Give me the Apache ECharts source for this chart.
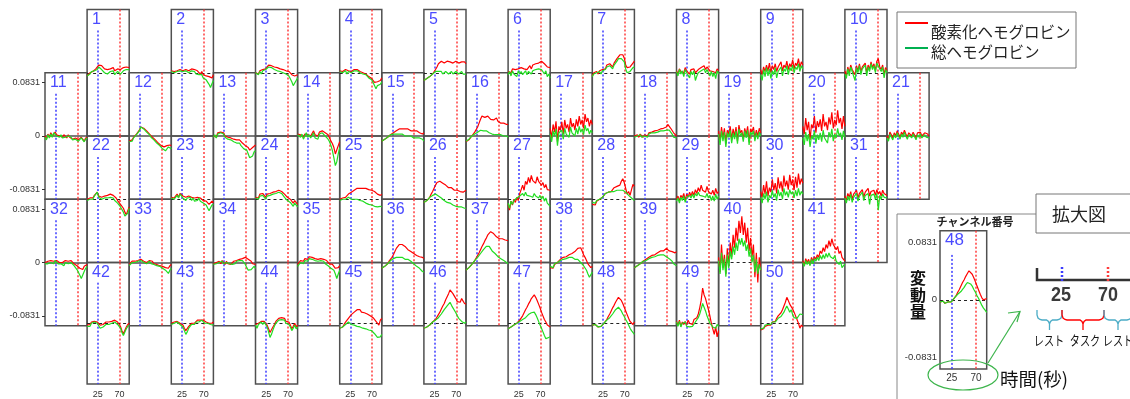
<!DOCTYPE html>
<html><head><meta charset="utf-8">
<script src="https://cdn.jsdelivr.net/npm/echarts@6/dist/echarts.min.js"></script>
<style>html,body{margin:0;padding:0;background:#fff}#c{width:1130px;height:399px}</style>
</head><body><div id="c"></div>
<script>
// time samples (s)
const times = [3,6,9,12,15,18,21,24,27,30,33,36,39,42,45,48,51,54,57,60,63,66,69,72,75,78,81,84,87,90];
const xTickValues = [25, 70];
const yTickValues = [-0.0831, 0, 0.0831];
const taskStart = 25, taskEnd = 70;
const UNIT = 0.001; // values below are in units of 0.001
// channel rows (first channel, count, column offset)
const rowFirst = [1, 11, 22, 32, 42];
const rowCount = [10, 11, 10, 10, 9];
const rowColOffset = [1, 0, 1, 0, 1];
const insetChannel = 48;
const legendNames = ['酸素化ヘモグロビン', '総ヘモグロビン'];

// oxy-Hb, channel 1..50
const oxyHb = [
[-5,-3,0,3,2,5,6,8,12,14,11,9,6,8,5,3,6,5,8,3,5,6,9,5,3,8,6,9,11,8],
[3,5,2,5,3,6,5,8,3,6,5,8,3,5,6,3,5,2,3,0,-2,2,-3,-2,-5,-3,-6,-5,-8,-3],
[0,2,-2,3,0,5,3,6,9,12,15,11,14,9,12,8,11,6,9,5,8,3,6,2,0,-3,-6,-5,-2,-3],
[3,5,2,3,5,2,3,5,2,3,5,3,5,3,2,3,0,2,-2,-3,-6,-5,-9,-12,-15,-18,-14,-17,-12,-8],
[-12,-11,-9,-8,-6,-3,-2,0,5,9,14,15,18,17,15,17,18,15,17,18,15,17,18,17,15,18,17,15,17,14],
[2,5,0,6,3,5,2,6,3,8,5,6,9,5,8,11,6,12,9,14,11,15,12,18,20,14,17,9,12,8],
[-5,0,-3,2,-2,3,0,5,8,6,12,9,14,11,9,15,18,22,25,28,26,28,23,12,8,5,9,12,15,18],
[3,-2,6,2,5,0,8,3,6,-2,5,2,6,0,3,5,2,8,6,11,5,9,8,3,6,2,5,0,6,3],
[5,-3,9,2,12,3,15,0,11,5,14,2,9,6,17,3,12,8,18,5,14,9,20,6,15,11,22,8,17,12],
[3,-5,9,0,12,5,8,-3,11,3,14,2,9,6,15,0,12,5,17,8,14,3,18,22,9,5,12,-3,8,3],
[0,-5,3,-2,5,0,3,6,2,5,0,3,-2,2,0,-3,2,-2,0,-5,-2,-3,0,-6,-3,-2,-5,-8,-3,-2],
[-8,-5,-6,-2,0,3,6,9,14,17,12,9,8,5,3,0,-2,-5,-6,-9,-11,-14,-15,-18,-17,-18,-15,-12,-14,-15],
[0,3,-2,5,2,6,3,5,0,2,-2,0,-3,-2,-5,-3,-6,-8,-6,-9,-11,-12,-15,-14,-18,-22,-23,-18,-15,-14],
[3,6,2,5,-2,3,6,2,5,0,3,8,2,5,0,6,3,8,9,5,6,2,-3,-8,-12,-18,-28,-25,-15,-9],
[-8,-6,-5,-3,-2,0,2,3,5,6,8,9,11,9,11,12,11,9,11,9,8,9,8,6,8,6,5,6,3,5],
[-9,-8,-6,-3,0,3,6,9,14,20,26,31,32,29,28,31,29,26,28,25,26,28,23,22,20,18,20,17,18,18],
[12,-3,18,6,23,-9,15,9,22,3,25,12,18,6,28,14,20,9,26,15,31,18,25,12,34,22,28,15,25,18],
[0,-3,2,-2,3,0,-2,2,3,0,5,2,6,3,8,5,9,8,11,9,12,15,14,18,17,12,9,5,2,0],
[8,-9,14,-3,12,-12,9,3,15,-6,11,0,14,-8,17,5,9,-5,12,2,15,-9,11,6,14,-3,9,0,12,5],
[15,3,28,9,22,-6,18,12,31,5,23,14,26,8,34,15,22,9,29,18,37,12,25,17,40,20,28,11,31,15],
[0,-5,6,2,-3,5,0,8,3,-2,6,2,9,3,-2,5,8,0,6,3,-3,5,2,6,0,-2,5,2,3,0],
[0,-3,2,5,2,6,3,11,5,8,3,6,5,8,6,9,8,5,6,3,2,-2,-5,-8,-11,-14,-20,-24,-18,-12],
[3,6,2,5,8,3,9,6,5,8,3,6,5,8,3,6,2,5,3,6,2,3,-2,0,-3,-5,-8,-6,-3,-5],
[3,6,2,8,5,9,6,3,8,5,9,6,11,8,12,9,14,15,12,11,8,6,3,5,0,-3,-6,-2,-5,-8],
[0,-2,2,0,3,5,8,9,11,12,14,15,17,18,17,18,17,15,17,14,15,12,14,11,12,9,8,9,6,8],
[-5,-3,-2,0,3,8,12,17,22,26,29,28,26,25,23,22,20,18,17,18,15,14,12,14,11,12,14,11,12,14],
[-8,-17,-3,-9,0,-5,3,-2,9,15,22,14,28,23,34,26,37,29,32,25,35,28,31,22,26,18,23,15,18,14],
[-8,-5,-9,-3,-6,0,-2,3,6,9,12,11,14,12,15,18,17,20,23,22,28,32,26,25,8,12,6,15,23,20],
[0,5,-3,6,2,9,-2,8,3,11,5,12,6,15,9,18,12,22,14,17,11,20,12,15,8,14,6,17,9,12],
[12,3,22,8,28,5,18,11,31,14,25,9,34,17,28,12,37,20,29,15,38,22,31,14,35,18,40,23,32,25],
[5,-2,9,3,12,0,8,5,14,2,9,6,15,3,11,8,17,5,12,9,14,6,15,8,12,5,14,9,11,6],
[0,-2,2,0,3,5,2,0,3,2,0,2,0,-2,3,5,2,0,3,2,-2,-3,-5,-8,-9,-12,-11,-6,-5,-3],
[-3,0,2,3,2,5,3,2,5,3,2,3,0,2,3,0,2,-2,0,-3,-2,-5,-3,-6,-5,-8,-6,-9,-5,-3],
[-2,-5,0,-3,2,-2,3,0,-3,2,-2,0,-3,-2,2,0,3,2,5,3,6,5,8,6,5,3,2,-2,0,-3],
[-3,0,3,5,2,6,8,5,9,6,8,5,6,3,5,8,6,3,5,2,3,0,-2,-5,-3,-6,-9,-12,-8,-5],
[-9,-8,-6,-5,-2,2,5,8,12,17,22,25,28,29,28,26,25,23,20,18,17,15,14,12,11,9,9,8,8,6],
[-12,-11,-8,-6,-3,0,3,6,11,15,20,25,29,34,38,43,46,48,46,45,42,40,38,37,35,37,34,35,32,34],
[-8,-5,-9,-3,-6,0,-2,5,3,8,6,9,8,12,11,14,12,17,18,22,20,23,18,12,8,3,-2,-5,-8,-6],
[-8,-6,-5,-3,-2,0,2,3,5,6,8,9,11,12,12,14,15,17,18,20,18,20,22,20,18,20,17,18,15,17],
[8,-15,28,-8,12,-18,22,-5,31,9,43,23,54,34,65,46,72,43,62,31,54,18,38,8,28,-23,15,-31,8,-12],
[3,-5,6,0,5,-3,8,2,9,5,12,8,18,14,23,17,28,22,34,25,37,28,31,20,25,14,18,8,6,2],
[-3,0,-2,2,0,3,5,2,0,-3,-5,-2,0,2,3,2,0,3,2,5,3,2,0,-5,-12,-17,-15,-6,-2,0],
[0,-2,2,0,3,2,0,2,-3,-8,-12,-9,-5,-2,0,2,0,3,5,3,5,6,5,3,2,3,0,2,0,2],
[-2,-5,0,2,3,0,3,2,-3,-9,-15,-12,-6,-2,3,6,8,5,9,6,8,3,6,2,-3,-9,-5,0,-6,-3],
[-8,-5,-6,-2,2,5,8,11,14,17,18,20,22,20,22,18,20,17,18,15,14,12,11,9,6,3,0,-3,5,8],
[-8,-9,-6,-5,-3,0,2,3,6,9,14,18,23,28,32,38,43,48,54,51,48,45,40,35,32,34,40,37,32,31],
[-9,-8,-6,-5,-3,-2,0,2,5,8,12,17,22,26,31,35,40,43,46,42,37,31,25,18,12,6,2,-3,-5,-6],
[-3,-5,-2,-5,-6,-3,-5,-3,0,3,6,11,15,20,25,29,34,38,42,40,37,32,26,20,14,8,3,0,-2,2],
[3,-3,5,-5,2,-2,3,-3,5,0,3,-2,6,3,9,15,25,37,57,46,40,31,22,12,0,-9,-18,-6,-22,-12],
[-11,-8,-9,-5,-6,-3,-2,-3,2,5,3,8,12,11,17,22,28,34,42,37,31,34,23,18,12,6,0,-8,-3,-6]
];

// total-Hb, channel 1..50
const totalHb = [
[-5,-3,-2,2,0,3,5,5,9,8,5,2,0,3,-2,-3,2,0,3,-3,0,2,5,-2,-3,3,2,5,6,5],
[2,3,0,3,2,5,3,6,2,3,3,5,0,2,3,0,2,-2,0,-3,-5,-3,-8,-6,-11,-14,-18,-23,-17,-12],
[0,-2,-3,2,-2,3,0,5,6,9,11,8,9,5,8,3,6,2,5,0,3,-2,0,-5,-8,-14,-20,-22,-12,-8],
[2,3,0,2,3,-2,2,3,0,2,3,2,3,2,0,2,-2,0,-3,-5,-8,-6,-11,-15,-18,-25,-20,-23,-18,-14],
[-12,-11,-9,-8,-6,-3,-2,0,2,0,2,0,2,-2,0,2,0,-2,0,2,-2,0,2,0,-2,0,2,-2,0,-2],
[-3,2,-5,3,-2,0,-6,3,-2,2,-3,0,3,-3,2,5,-2,3,0,5,2,6,3,5,6,-2,3,-6,-2,-8],
[-6,-2,-5,0,-3,2,-2,3,6,5,9,6,11,8,6,12,15,18,22,23,22,23,17,6,0,-3,2,5,8,9],
[2,-5,5,-2,3,-6,5,0,3,-8,2,-3,3,-12,-5,0,-3,3,2,6,0,5,3,-5,2,-6,0,-9,3,-2],
[-3,-12,5,-6,8,-5,6,-9,3,-3,8,-8,2,0,9,-5,6,2,11,-3,8,3,12,0,9,5,14,2,11,6],
[-2,-9,6,-5,9,2,5,-12,8,0,11,-3,6,3,12,-5,9,2,14,5,11,0,15,18,6,2,9,-8,5,0],
[-2,-6,2,-3,3,-2,5,3,0,3,-2,2,-3,0,-2,-5,0,-3,-2,-6,-3,-5,-2,-8,-5,-3,-6,-9,-5,-3],
[-9,-6,-8,-3,-2,2,5,8,14,15,11,8,6,3,2,-2,-3,-6,-8,-11,-12,-15,-17,-20,-22,-23,-20,-17,-18,-20],
[-2,2,-3,3,0,5,2,3,-2,-3,-5,-3,-6,-5,-9,-8,-11,-12,-11,-15,-17,-20,-23,-22,-28,-34,-37,-31,-25,-23],
[2,5,-2,3,-5,0,5,-2,2,-3,0,5,-3,0,-5,3,0,5,6,0,2,-5,-9,-15,-23,-34,-46,-40,-28,-18],
[-8,-6,-5,-3,-2,0,2,2,3,5,3,5,3,2,3,2,0,2,0,-2,0,-2,-3,-2,-3,-5,-3,-6,-5,-8],
[-8,-6,-5,-3,0,2,3,5,6,8,9,9,8,6,8,6,5,5,3,3,2,3,2,0,2,0,0,-2,0,-2],
[3,-9,8,0,11,-15,5,2,9,-5,12,3,6,-2,14,5,8,0,12,3,15,6,11,2,17,8,12,3,9,5],
[-2,-5,0,-3,2,-2,-3,0,2,-2,3,0,5,2,5,3,6,5,8,6,8,11,9,11,9,6,3,-2,-5,-3],
[3,-14,8,-8,6,-17,5,-2,9,-11,5,-5,8,-12,11,0,5,-9,8,-3,9,-14,6,2,8,-8,5,-5,6,0],
[-3,-14,6,-8,3,-17,0,-5,8,-12,2,-6,5,-9,9,-3,0,-11,6,-2,11,-8,3,-3,12,0,5,-6,8,-2],
[-3,-8,3,-2,-6,2,-3,5,0,-5,3,-2,6,0,-5,2,5,-3,3,0,-6,2,-2,3,-3,-5,2,-2,0,-3],
[-2,-5,0,3,0,5,2,11,3,5,0,3,2,3,2,5,3,0,2,-2,-3,-6,-9,-12,-15,-20,-26,-29,-22,-14],
[2,5,0,3,6,2,8,5,2,3,-2,2,0,3,-2,2,-3,0,-2,2,-3,-2,-6,-5,-9,-12,-18,-15,-9,-8],
[2,5,0,5,2,6,3,0,5,2,6,3,8,5,9,6,11,12,9,6,3,2,-2,0,-5,-8,-11,-6,-9,-12],
[-2,-3,0,-2,0,2,3,2,0,2,0,-2,0,-3,-2,-5,-3,-5,-6,-5,-8,-6,-9,-8,-11,-9,-12,-14,-11,-12],
[-5,-3,-2,0,3,5,6,8,8,6,5,3,2,0,-2,-3,-5,-5,-6,-8,-9,-9,-11,-12,-12,-14,-12,-14,-14,-14],
[-6,-14,-3,-8,-2,-5,2,0,5,8,9,5,11,6,9,5,8,3,9,5,8,2,6,0,5,-3,2,-6,-8,-11],
[-5,-3,-6,-2,-5,0,-2,3,6,9,12,11,14,12,14,12,15,14,12,14,15,14,12,11,8,6,3,2,0,-2],
[-3,2,-6,3,-2,5,-5,3,0,6,2,8,2,9,5,11,6,9,5,8,3,9,2,6,-2,5,-3,8,0,5],
[3,-6,9,0,12,-5,6,2,14,3,9,-2,15,5,11,0,17,6,12,3,15,8,12,2,14,5,17,6,12,8],
[2,-6,5,-2,8,-5,3,0,9,-3,5,2,11,-2,6,3,9,-8,6,5,8,0,9,-17,6,0,8,3,5,2],
[-2,-5,-2,-3,0,2,-2,3,0,-2,-3,-2,-3,-5,0,2,-2,-3,0,-2,-5,-8,-11,-15,-20,-25,-22,-14,-9,-6],
[-5,-2,0,2,0,3,2,0,3,2,0,2,-2,0,2,-2,0,-3,-2,-5,-3,-6,-6,-9,-8,-12,-14,-17,-12,-9],
[-3,-6,-2,-5,0,-3,2,-2,-5,0,-3,-2,-5,-3,0,-2,2,0,3,2,3,0,-3,-8,-12,-15,-11,-8,-6,-9],
[-6,-3,0,2,-2,3,5,2,6,3,5,2,3,0,2,5,3,0,2,-2,-2,-5,-6,-9,-8,-12,-18,-25,-18,-12],
[-9,-8,-6,-5,-2,0,3,5,6,8,8,6,8,6,8,6,5,6,5,3,2,0,-2,-3,-6,-8,-9,-12,-14,-15],
[-12,-11,-8,-6,-3,0,3,5,8,11,14,17,20,23,25,26,25,22,18,15,14,12,9,8,6,5,3,2,0,-2],
[-6,-3,-8,-2,-5,0,-2,3,2,5,3,6,5,8,6,8,6,5,3,5,2,0,-2,-5,-8,-12,-18,-23,-20,-15],
[-8,-6,-5,-3,-2,0,2,3,3,5,6,8,8,9,9,11,11,12,12,11,12,11,9,8,6,5,2,-2,-3,-5],
[3,-18,15,-12,6,-22,12,-9,18,5,25,12,31,18,37,28,38,25,34,18,28,9,22,0,12,-15,5,-18,-3,-12],
[0,-6,3,-3,2,-5,5,-2,6,2,8,3,11,5,12,6,14,8,15,9,12,6,11,2,5,-3,2,-8,-5,-2],
[-5,-3,-5,0,-2,2,3,0,-3,-8,-11,-6,-3,-2,0,-2,-3,0,-2,2,0,-2,-3,-8,-15,-20,-18,-9,-5,-3],
[-2,-3,0,-2,2,0,-2,0,-6,-12,-18,-14,-8,-5,-2,0,-2,2,3,2,3,5,3,0,-2,0,-3,-2,-5,-3],
[-3,-8,-2,0,2,-2,2,0,-6,-14,-23,-18,-11,-5,0,3,5,2,6,3,5,0,3,-2,-6,-12,-8,-3,-9,-6],
[-8,-5,-6,-3,-2,0,2,0,-2,0,-3,-2,-5,-3,-6,-5,-8,-6,-9,-8,-11,-9,-12,-14,-17,-20,-23,-26,-22,-18],
[-8,-9,-6,-5,-3,0,2,3,5,8,9,12,15,18,22,25,28,31,34,29,25,22,17,12,8,5,3,2,0,2],
[-9,-8,-6,-5,-3,-2,0,2,3,5,6,8,9,12,14,15,17,18,18,14,9,3,-3,-8,-14,-20,-25,-26,-23,-22],
[-3,-5,-2,-5,-6,-3,-5,-3,0,3,5,8,9,12,15,18,22,25,26,23,20,15,11,6,2,-3,-8,-12,-15,-18],
[2,-5,3,-6,0,-3,2,-5,-8,-6,-9,-5,-2,2,5,9,15,23,32,26,20,12,6,0,-3,-6,-3,-8,-2,-5],
[-9,-6,-8,-3,-5,-2,0,-2,2,3,2,5,8,6,11,14,18,23,28,23,18,22,14,9,12,8,11,15,12,14]
];

const RED = '#ff0000', GREEN = '#22dd22', BLUE_MK = '#3c3cff', RED_MK = '#ff3c3c';
const NUM_FONT = '"Liberation Sans", Arial, sans-serif';
const JP = '"Noto Sans CJK JP", sans-serif';
const grids = [], xAxes = [], yAxes = [], series = [], graphics = [];

function addPanel(ch, left, top, w, h, ymax, o) {
  const gi = grids.length;
  grids.push({left: left, top: top, width: w, height: h, show: true,
    borderColor: '#505050', borderWidth: 1.5, backgroundColor: 'rgba(0,0,0,0)'});
  xAxes.push({type: 'value', gridIndex: gi, min: 3, max: 90,
    axisLine: {show: false, onZero: false}, splitLine: {show: false}, axisTick: {show: false},
    axisLabel: o.xLabels ? {show: true, customValues: xTickValues, margin: o.xMargin,
      fontSize: o.xFont, color: '#333', fontFamily: NUM_FONT} : {show: false}});
  yAxes.push({type: 'value', gridIndex: gi, min: -ymax, max: ymax,
    axisLine: {show: false, onZero: false}, splitLine: {show: false},
    axisTick: o.yTicks ? {show: true, customValues: yTickValues, length: 3, lineStyle: {color: '#333', width: 1}} : {show: false},
    axisLabel: o.yLabels ? {show: true, customValues: yTickValues, margin: o.yMargin,
      fontSize: o.yFont, color: '#333', fontFamily: NUM_FONT,
      formatter: function (v) { return Math.abs(v) < 1e-9 ? '0' : v.toFixed(4); }} : {show: false}});
  const zeroStyle = o.zeroSolid ? {color: '#505050', type: 'solid', width: 1.5}
                                : {color: '#222', type: [3, 3], width: 1};
  const blue = {color: BLUE_MK, type: [2, 2], width: 1.5};
  const red = {color: RED_MK, type: [2, 2], width: 1.5};
  series.push({type: 'line', xAxisIndex: gi, yAxisIndex: gi, z: 2, symbol: 'none', showSymbol: false,
    silent: true, animation: false,
    lineStyle: {color: RED, width: 1.2}, itemStyle: {color: RED},
    data: times.map(function (t, i) { return [t, oxyHb[ch - 1][i] * UNIT]; }),
    markLine: {silent: true, symbol: 'none', animation: false, z: 1, label: {show: false},
      emphasis: {disabled: true},
      data: [
        [{coord: [taskStart, o.blueTop], lineStyle: blue}, {coord: [taskStart, -ymax], lineStyle: blue}],
        [{coord: [taskEnd, ymax], lineStyle: red}, {coord: [taskEnd, -ymax], lineStyle: red}],
        {yAxis: 0, lineStyle: zeroStyle}
      ]}});
  series.push({type: 'line', xAxisIndex: gi, yAxisIndex: gi, z: 3, symbol: 'none', showSymbol: false,
    silent: true, animation: false,
    lineStyle: {color: GREEN, width: 1.2}, itemStyle: {color: GREEN},
    data: times.map(function (t, i) { return [t, totalHb[ch - 1][i] * UNIT]; })});
  graphics.push({type: 'text', x: left + 5, y: top + o.numDy, z: 20,
    style: {text: String(ch), font: o.numFont + 'px ' + NUM_FONT, fill: '#4b4bff',
      textAlign: 'left', textVerticalAlign: 'top', align: 'left', verticalAlign: 'top'}});
}

const L0 = 45, CW = 42.1, T0 = 9.5, RH = 63.25, PH = 126.5, YM = 0.0985;
for (let r = 0; r < rowFirst.length; r++) {
  for (let j = 0; j < rowCount[r]; j++) {
    const ch = rowFirst[r] + j;
    const col = rowColOffset[r] + 2 * j;
    const left = L0 + CW * col, top = T0 + RH * r;
    addPanel(ch, left, top, CW, PH, YM, {
      xLabels: r === 4, xMargin: 6, xFont: 9,
      yLabels: col === 0, yTicks: col === 0, yMargin: 5, yFont: 9,
      zeroSolid: (r === 1 || r === 3) && ch !== 40,
      blueTop: YM - 21 / PH * 2 * YM, numDy: 2, numFont: 16
    });
  }
}
// inset (enlarged channel)
addPanel(insetChannel, 940, 230.7, 46.7, 138.3, 0.1, {
  xLabels: true, xMargin: 4, xFont: 10, yLabels: true, yTicks: false, yMargin: 3, yFont: 9.5,
  zeroSolid: false, blueTop: 0.065, numDy: 1, numFont: 17
});

function txt(x, y, s, font, fill, align, extra) {
  const e = {type: 'text', x: x, y: y, z: 30,
    style: {text: s, font: font, fill: fill || '#222', textAlign: align || 'left', align: align || 'left',
      textVerticalAlign: 'middle', verticalAlign: 'middle'}};
  if (extra) Object.assign(e, extra);
  return e;
}

// legend
graphics.push({type: 'rect', z: 25, shape: {x: 897, y: 12, width: 179, height: 56},
  style: {fill: '#fff', stroke: '#777', lineWidth: 1}});
graphics.push({type: 'line', z: 30, shape: {x1: 905, y1: 23, x2: 928, y2: 23}, style: {stroke: '#ff0000', lineWidth: 2}});
graphics.push({type: 'line', z: 30, shape: {x1: 905, y1: 48, x2: 928, y2: 48}, style: {stroke: '#00b050', lineWidth: 2}});
graphics.push(txt(931, 32, legendNames[0], '15.5px ' + JP, '#222'));
graphics.push(txt(931, 52, legendNames[1], '15.5px ' + JP, '#222'));

// enlarged view frame
graphics.push({type: 'rect', z: 5, shape: {x: 897, y: 214, width: 300, height: 300},
  style: {fill: 'rgba(0,0,0,0)', stroke: '#888', lineWidth: 1}});
graphics.push({type: 'rect', z: 25, shape: {x: 1036, y: 194, width: 120, height: 39},
  style: {fill: '#fff', stroke: '#777', lineWidth: 1}});
graphics.push(txt(1079, 214, '拡大図', '18px ' + JP, '#222', 'center'));
graphics.push(txt(975, 222, 'チャンネル番号', 'bold 11px ' + JP, '#222', 'center'));
graphics.push({type: 'text', x: 918, y: 295, z: 30,
  style: {text: '変\n動\n量', font: 'bold 16px ' + JP, fill: '#111', lineHeight: 17,
    textAlign: 'center', align: 'center', textVerticalAlign: 'middle', verticalAlign: 'middle'}});
graphics.push(txt(1000, 379, '時間(秒)', '18.5px ' + JP, '#111'));
// ellipse + arrow
graphics.push({type: 'ellipse', z: 30, shape: {cx: 963, cy: 375, rx: 35, ry: 15},
  style: {fill: 'rgba(0,0,0,0)', stroke: '#3cb44b', lineWidth: 1.2}});
graphics.push({type: 'line', z: 30, shape: {x1: 988, y1: 363, x2: 1020, y2: 311.5},
  style: {stroke: '#3cb44b', lineWidth: 1.2}});
graphics.push({type: 'polyline', z: 30, shape: {points: [[1008, 313], [1020, 311.5], [1017, 322]]},
  style: {stroke: '#3cb44b', lineWidth: 1.2, fill: null}});
// time axis diagram
graphics.push({type: 'polyline', z: 30, shape: {points: [[1037, 268], [1037, 280], [1140, 280]]},
  style: {stroke: '#333', lineWidth: 2.5, fill: null}});
graphics.push({type: 'line', z: 31, shape: {x1: 1062, y1: 267, x2: 1062, y2: 281},
  style: {stroke: BLUE_MK, lineWidth: 2.5, lineDash: [2, 2]}});
graphics.push({type: 'line', z: 31, shape: {x1: 1108, y1: 267, x2: 1108, y2: 281},
  style: {stroke: RED_MK, lineWidth: 2.5, lineDash: [2, 2]}});
graphics.push(txt(1061, 295, String(xTickValues[0]), 'bold 20px ' + NUM_FONT, '#3a3a3a', 'center', {scaleX: 0.9}));
graphics.push(txt(1108, 295, String(xTickValues[1]), 'bold 20px ' + NUM_FONT, '#3a3a3a', 'center', {scaleX: 0.9}));
function brace(x1, x2, color) {
  const m = (x1 + x2) / 2;
  return {type: 'polyline', z: 30,
    shape: {points: [[x1, 310], [x1, 315], [x1 + 1, 318], [x1 + 3, 319.5], [x1 + 5, 320], [m - 3, 320], [m - 1, 321.5],
      [m, 324], [m, 330], [m, 324], [m + 1, 321.5], [m + 3, 320], [x2 - 5, 320], [x2 - 3, 319.5], [x2 - 1, 318], [x2, 315], [x2, 310]]},
    style: {stroke: color, lineWidth: 1.3, fill: null}};
}
graphics.push(brace(1037, 1062, '#4bacc6'));
graphics.push(brace(1062, 1104, '#ff0000'));
graphics.push(brace(1104, 1132, '#4bacc6'));
graphics.push(txt(1049, 340, 'レスト', '13px ' + JP, '#111', 'center', {scaleX: 0.78}));
graphics.push(txt(1085, 340, 'タスク', '13px ' + JP, '#111', 'center', {scaleX: 0.78}));
graphics.push(txt(1118, 340, 'レスト', '13px ' + JP, '#111', 'center', {scaleX: 0.78}));

const chart = echarts.init(document.getElementById('c'));
chart.setOption({
  animation: false,
  grid: grids, xAxis: xAxes, yAxis: yAxes, series: series,
  graphic: {elements: graphics}
});
</script></body></html>
